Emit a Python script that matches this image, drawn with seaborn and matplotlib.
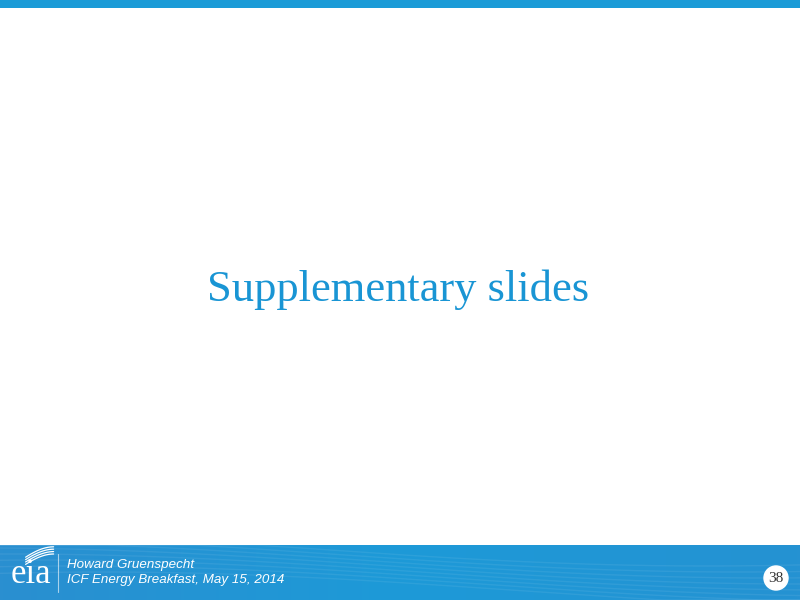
import numpy as np
import seaborn as sns
import matplotlib.pyplot as plt
from matplotlib.patches import Rectangle, Circle

# slide text
titulo = 'Supplementary slides'
autor = 'Howard Gruenspecht'
evento = 'ICF Energy Breakfast, May 15, 2014'
pagina = '38'

azul = '#1995d4'

sns.set_theme(style='white')
plt.rcParams['font.family'] = ['Liberation Sans', 'DejaVu Sans']

fig = plt.figure(figsize=(8, 6), dpi=100)
ax = fig.add_axes([0, 0, 1, 1])
ax.set_xlim(0, 800)
ax.set_ylim(600, 0)
ax.axis('off')

# faixa superior
ax.add_patch(Rectangle((0, 0), 800, 8, color='#1b9bd7', lw=0))

# rodapé com degradê
grad = np.linspace(0, 1, 256).reshape(1, -1)
ax.imshow(grad, extent=(0, 800, 600, 545), aspect='auto',
          cmap=sns.blend_palette(['#2a8fd0', '#1d9ad8', '#2592d2'], as_cmap=True), zorder=1)
# linhas curvas sutis no rodapé
xs = np.linspace(0, 800, 200)
for k in range(8):
    ys = 548 + k * 6 + 18 * np.sin((xs - 300 - k * 30) / 260)
    ax.plot(xs, np.clip(ys, 545, 600), color='white', alpha=0.07, lw=1, zorder=2)

# logo eia
ax.text(11, 583, 'eia', fontsize=25, family='Liberation Serif', color='white',
        va='baseline', ha='left', zorder=3)
for k in range(4):
    t = np.linspace(0.2, 1.2, 30)
    ax.plot(20 + 28 * t, 568 - 14 * np.sin(t * 1.3) - k * 2.4, color='white', lw=0.9, zorder=3)
ax.plot([58, 58], [554, 592], color='white', alpha=0.6, lw=0.8, zorder=3)

ax.text(67, 565, autor, fontsize=9.6, style='italic', color='white', va='center', ha='left', zorder=3)
ax.text(67, 580, evento, fontsize=9.6, style='italic', color='white', va='center', ha='left', zorder=3)

# número da página
ax.add_patch(Circle((776, 578), 12, color='white', zorder=3))
ax.text(776, 578, pagina, fontsize=11, family='Liberation Serif', color='#333333',
        ha='center', va='center', zorder=4)

# título
ax.text(398, 301, titulo, fontsize=32, family='Liberation Serif', color=azul,
        ha='center', va='baseline', zorder=3)

fig.savefig('out.png', dpi=100)
